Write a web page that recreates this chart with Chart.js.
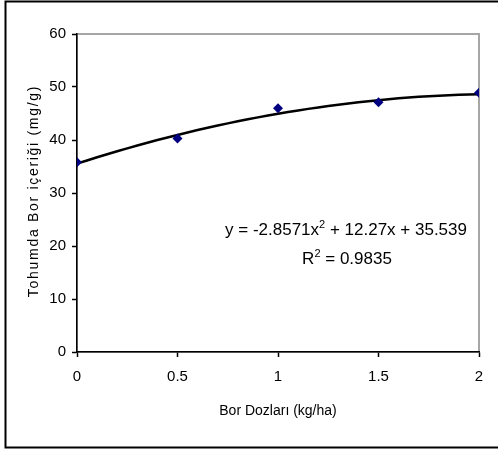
<!DOCTYPE html>
<html>
<head>
<meta charset="utf-8">
<script src="https://cdn.jsdelivr.net/npm/chart.js@4.4.1/dist/chart.umd.min.js"></script>
<style>
  html, body { margin: 0; padding: 0; background: #fff; }
</style>
</head>
<body>
<canvas id="chart" width="498" height="450"></canvas>
<script>
// data
const doses = [0, 0.5, 1, 1.5, 2];
const boron = [35.8, 40.3, 46.0, 47.1, 48.9];
const xTicks = [0, 0.5, 1, 1.5, 2];
const yTicks = [0, 10, 20, 30, 40, 50, 60];
// polynomial trendline as printed on the chart: a*x^2 + b*x + c
const trendCoef = [-2.8571, 12.27, 35.539];
const trendX = [0, 0.1, 0.2, 0.3, 0.4, 0.5, 0.6, 0.7, 0.8, 0.9, 1, 1.1, 1.2, 1.3, 1.4, 1.5, 1.6, 1.7, 1.8, 1.9, 2];

const FONT = "'Liberation Sans', Arial, sans-serif";

function trendPoints() {
  return trendX.map(x => ({
    x: x,
    y: trendCoef[0] * x * x + trendCoef[1] * x + trendCoef[2]
  }));
}

// draw a line of text where "^2" parts become small raised digits
function drawRich(ctx, parts, cx, y, size) {
  const big = size + "px " + FONT;
  const small = Math.round(size * 0.62) + "px " + FONT;
  let total = 0;
  parts.forEach(p => {
    ctx.font = p.sup ? small : big;
    total += ctx.measureText(p.t).width;
  });
  let x = cx - total / 2;
  ctx.textAlign = "left";
  ctx.textBaseline = "alphabetic";
  parts.forEach(p => {
    ctx.font = p.sup ? small : big;
    ctx.fillText(p.t, x, p.sup ? y - size * 0.42 : y);
    x += ctx.measureText(p.t).width;
  });
}

const framePlugin = {
  id: "frame",
  beforeDraw(chart) {
    const ctx = chart.ctx;
    const a = chart.chartArea;
    ctx.save();
    ctx.fillStyle = "#fff";
    ctx.fillRect(0, 0, chart.width, chart.height);
    // outer chart border
    ctx.strokeStyle = "#000";
    ctx.lineWidth = 2;
    ctx.strokeRect(5.5, 1.5, 500, 446);
    // plot area border
    ctx.strokeStyle = "#a6a6a6";
    ctx.lineWidth = 2;
    ctx.strokeRect(a.left, a.top, a.right - a.left, a.bottom - a.top);
    ctx.restore();
  },
  afterDraw(chart) {
    const ctx = chart.ctx;
    const a = chart.chartArea;
    ctx.save();
    ctx.fillStyle = "#000";
    // x axis title
    ctx.font = "14px " + FONT;
    ctx.textAlign = "center";
    ctx.textBaseline = "middle";
    ctx.fillText("Bor Dozları (kg/ha)", (a.left + a.right) / 2, 411);
    // y axis title
    ctx.save();
    ctx.translate(34, 191);
    ctx.rotate(-Math.PI / 2);
    ctx.font = "14px " + FONT;
    ctx.letterSpacing = "1.7px";
    ctx.fillText("Tohumda Bor içeriği (mg/g)", 0, 0);
    ctx.restore();
    // trendline equation
    drawRich(ctx, [
      { t: "y = -2.8571x" }, { t: "2", sup: true }, { t: " + 12.27x + 35.539" }
    ], 346, 235, 17);
    drawRich(ctx, [
      { t: "R" }, { t: "2", sup: true }, { t: " = 0.9835" }
    ], 347, 264, 17);
    ctx.restore();
  }
};

function axis(min, max, ticks, extra) {
  return Object.assign({
    type: "linear",
    min: min,
    max: max,
    afterBuildTicks: scale => { scale.ticks = ticks.map(v => ({ value: v })); },
    ticks: {
      color: "#000",
      font: { family: FONT, size: 15 },
      callback: v => String(v)
    },
    grid: {
      display: true,
      drawOnChartArea: false,
      drawTicks: true,
      tickLength: 5,
      tickWidth: 1.5,
      color: "#000"
    },
    border: { display: true, color: "#000", width: 1.5 }
  }, extra);
}

const xScale = axis(0, 2, xTicks, { afterFit: s => { s.height = 98; } });
xScale.ticks.padding = 11;
const yScale = axis(0, 60, yTicks, { afterFit: s => { s.width = 77; } });
yScale.ticks.padding = 6;

new Chart(document.getElementById("chart"), {
  type: "scatter",
  data: {
    datasets: [
      {
        label: "Trend",
        data: trendPoints(),
        showLine: true,
        borderColor: "#000",
        borderWidth: 2.5,
        pointRadius: 0,
        tension: 0.3,
        order: 2
      },
      {
        label: "Bor",
        data: doses.map((d, i) => ({ x: d, y: boron[i] })),
        pointStyle: "rectRot",
        pointRadius: 5,
        backgroundColor: "#000080",
        borderColor: "#000080",
        borderWidth: 0,
        order: 1
      }
    ]
  },
  options: {
    responsive: false,
    animation: false,
    devicePixelRatio: 1,
    layout: { padding: { left: 0, top: 34, right: 19, bottom: 0 } },
    plugins: {
      legend: { display: false },
      tooltip: { enabled: false }
    },
    scales: { x: xScale, y: yScale }
  },
  plugins: [framePlugin]
});
</script>
</body>
</html>
